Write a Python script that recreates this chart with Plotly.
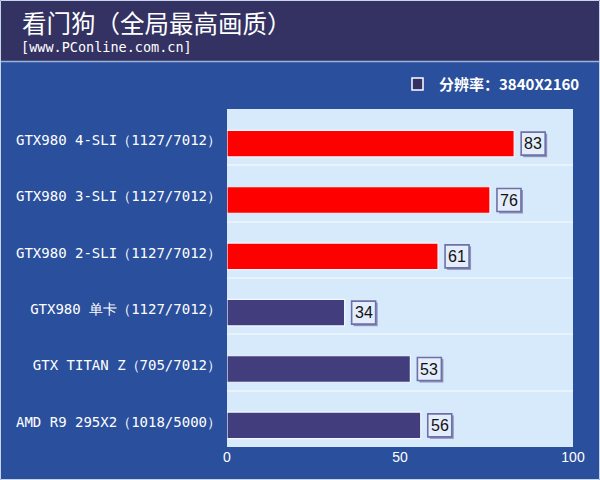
import plotly.graph_objects as go

categories = [
    "GTX980 4-SLI（1127/7012）",
    "GTX980 3-SLI（1127/7012）",
    "GTX980 2-SLI（1127/7012）",
    "GTX980 单卡（1127/7012）",
    "GTX TITAN Z（705/7012）",
    "AMD R9 295X2（1018/5000）",
]
values = [83, 76, 61, 34, 53, 56]
bar_colors = ["#ff0000", "#ff0000", "#ff0000", "#423e7e", "#423e7e", "#423e7e"]
title_text = "看门狗（全局最高画质）"
subtitle_text = "[www.PConline.com.cn]"
legend_text = "分辨率：3840X2160"
x_ticks = [0, 50, 100]

W, H = 600, 480
L, R, T, B = 227, 27, 109, 33
PW, PH = W - L - R, H - T - B
FONT = "Noto Sans CJK SC"
MONO = "DejaVu Sans Mono"
BAR_W = 0.47
SHIFT_PX = 6.5                     # bars sit a little below the band centre
SHIFT = SHIFT_PX / (PH / len(categories))


def px(xpix):
    return (xpix - L) / PW


def py(ypix):
    return 1 + (T - ypix) / PH


fig = go.Figure()
fig.add_trace(go.Bar(
    x=values, y=categories, orientation="h",
    marker=dict(color=bar_colors, line=dict(color="#f4f8ff", width=1.2)),
    width=BAR_W, offset=-BAR_W / 2 + SHIFT, hoverinfo="skip", showlegend=False,
))

shapes = []
shapes.append(dict(type="rect", xref="paper", yref="paper", x0=px(0), x1=px(W),
                   y0=py(61), y1=py(0), fillcolor="#333263", line=dict(width=0), layer="below"))
shapes.append(dict(type="line", xref="paper", yref="paper", x0=px(0), x1=px(W),
                   y0=py(61.5), y1=py(61.5), line=dict(color="#9fb3d8", width=1.5), layer="below"))
shapes.append(dict(type="rect", xref="paper", yref="paper", x0=px(0.5), x1=px(W - 0.5),
                   y0=py(H - 0.5), y1=py(0.5), line=dict(color="#c8d4ea", width=1), layer="above"))
shapes.append(dict(type="rect", xref="paper", yref="paper", x0=px(412), x1=px(423),
                   y0=py(90), y1=py(78), fillcolor="#333263", line=dict(color="#ffffff", width=1.5)))

for c, v in zip(categories, values):
    shapes.append(dict(type="rect", xref="x", yref="y", xsizemode="pixel", ysizemode="pixel",
                       xanchor=v, yanchor=c, x0=9, x1=33, y0=-13.5 - SHIFT_PX, y1=10 - SHIFT_PX,
                       fillcolor="#8e92b8", line=dict(width=0), layer="above"))
    shapes.append(dict(type="rect", xref="x", yref="y", xsizemode="pixel", ysizemode="pixel",
                       xanchor=v, yanchor=c, x0=7, x1=31, y0=-11.5 - SHIFT_PX, y1=11.5 - SHIFT_PX,
                       fillcolor="#e4edfb", line=dict(color="#6e70a8", width=1.6), layer="above"))
    fig.add_annotation(x=v, y=c, xref="x", yref="y", text=str(v), showarrow=False,
                       xanchor="center", yanchor="middle", xshift=19, yshift=-SHIFT_PX,
                       font=dict(size=16, color="#111111", family="Liberation Sans Narrow, Liberation Sans"))
fig.update_layout(shapes=shapes)

fig.add_annotation(xref="paper", yref="paper", x=px(437), y=py(84),
                   text=legend_text, showarrow=False, xanchor="left", yanchor="middle",
                   font=dict(size=15, color="#ffffff", family=FONT, weight="bold"))

fig.add_annotation(xref="paper", yref="paper", x=px(20), y=py(22),
                   text=title_text, showarrow=False, xanchor="left", yanchor="middle",
                   font=dict(size=24.5, color="#ffffff", family=FONT))
fig.add_annotation(xref="paper", yref="paper", x=px(19), y=py(47),
                   text=subtitle_text, showarrow=False, xanchor="left", yanchor="middle",
                   font=dict(size=13.5, color="#ffffff", family=MONO))

fig.update_layout(
    width=W, height=H,
    margin=dict(l=L, r=R, t=T, b=B, pad=0, autoexpand=False),
    paper_bgcolor="#2a4f9c",
    plot_bgcolor="#d6eafc",
    xaxis=dict(range=[0, 100], tickvals=x_ticks, showgrid=False, zeroline=False,
               tickfont=dict(size=14, color="#ffffff", family="Liberation Sans"),
               ticks="", ticklen=0, showline=False, fixedrange=True, automargin=False),
    yaxis=dict(type="category", autorange="reversed", tickson="boundaries",
               showgrid=True, gridcolor="#e9f3fd", gridwidth=1.5,
               tickfont=dict(size=14, color="#ffffff", family=MONO),
               ticks="", ticklabelstandoff=5, ticklabelshift=-3,
               showline=False, fixedrange=True, automargin=False),
    font=dict(family=FONT),
)

fig.write_html("out.html", config={"displayModeBar": False},
               post_script="document.body.style.margin='0';document.body.style.overflow='hidden';")
